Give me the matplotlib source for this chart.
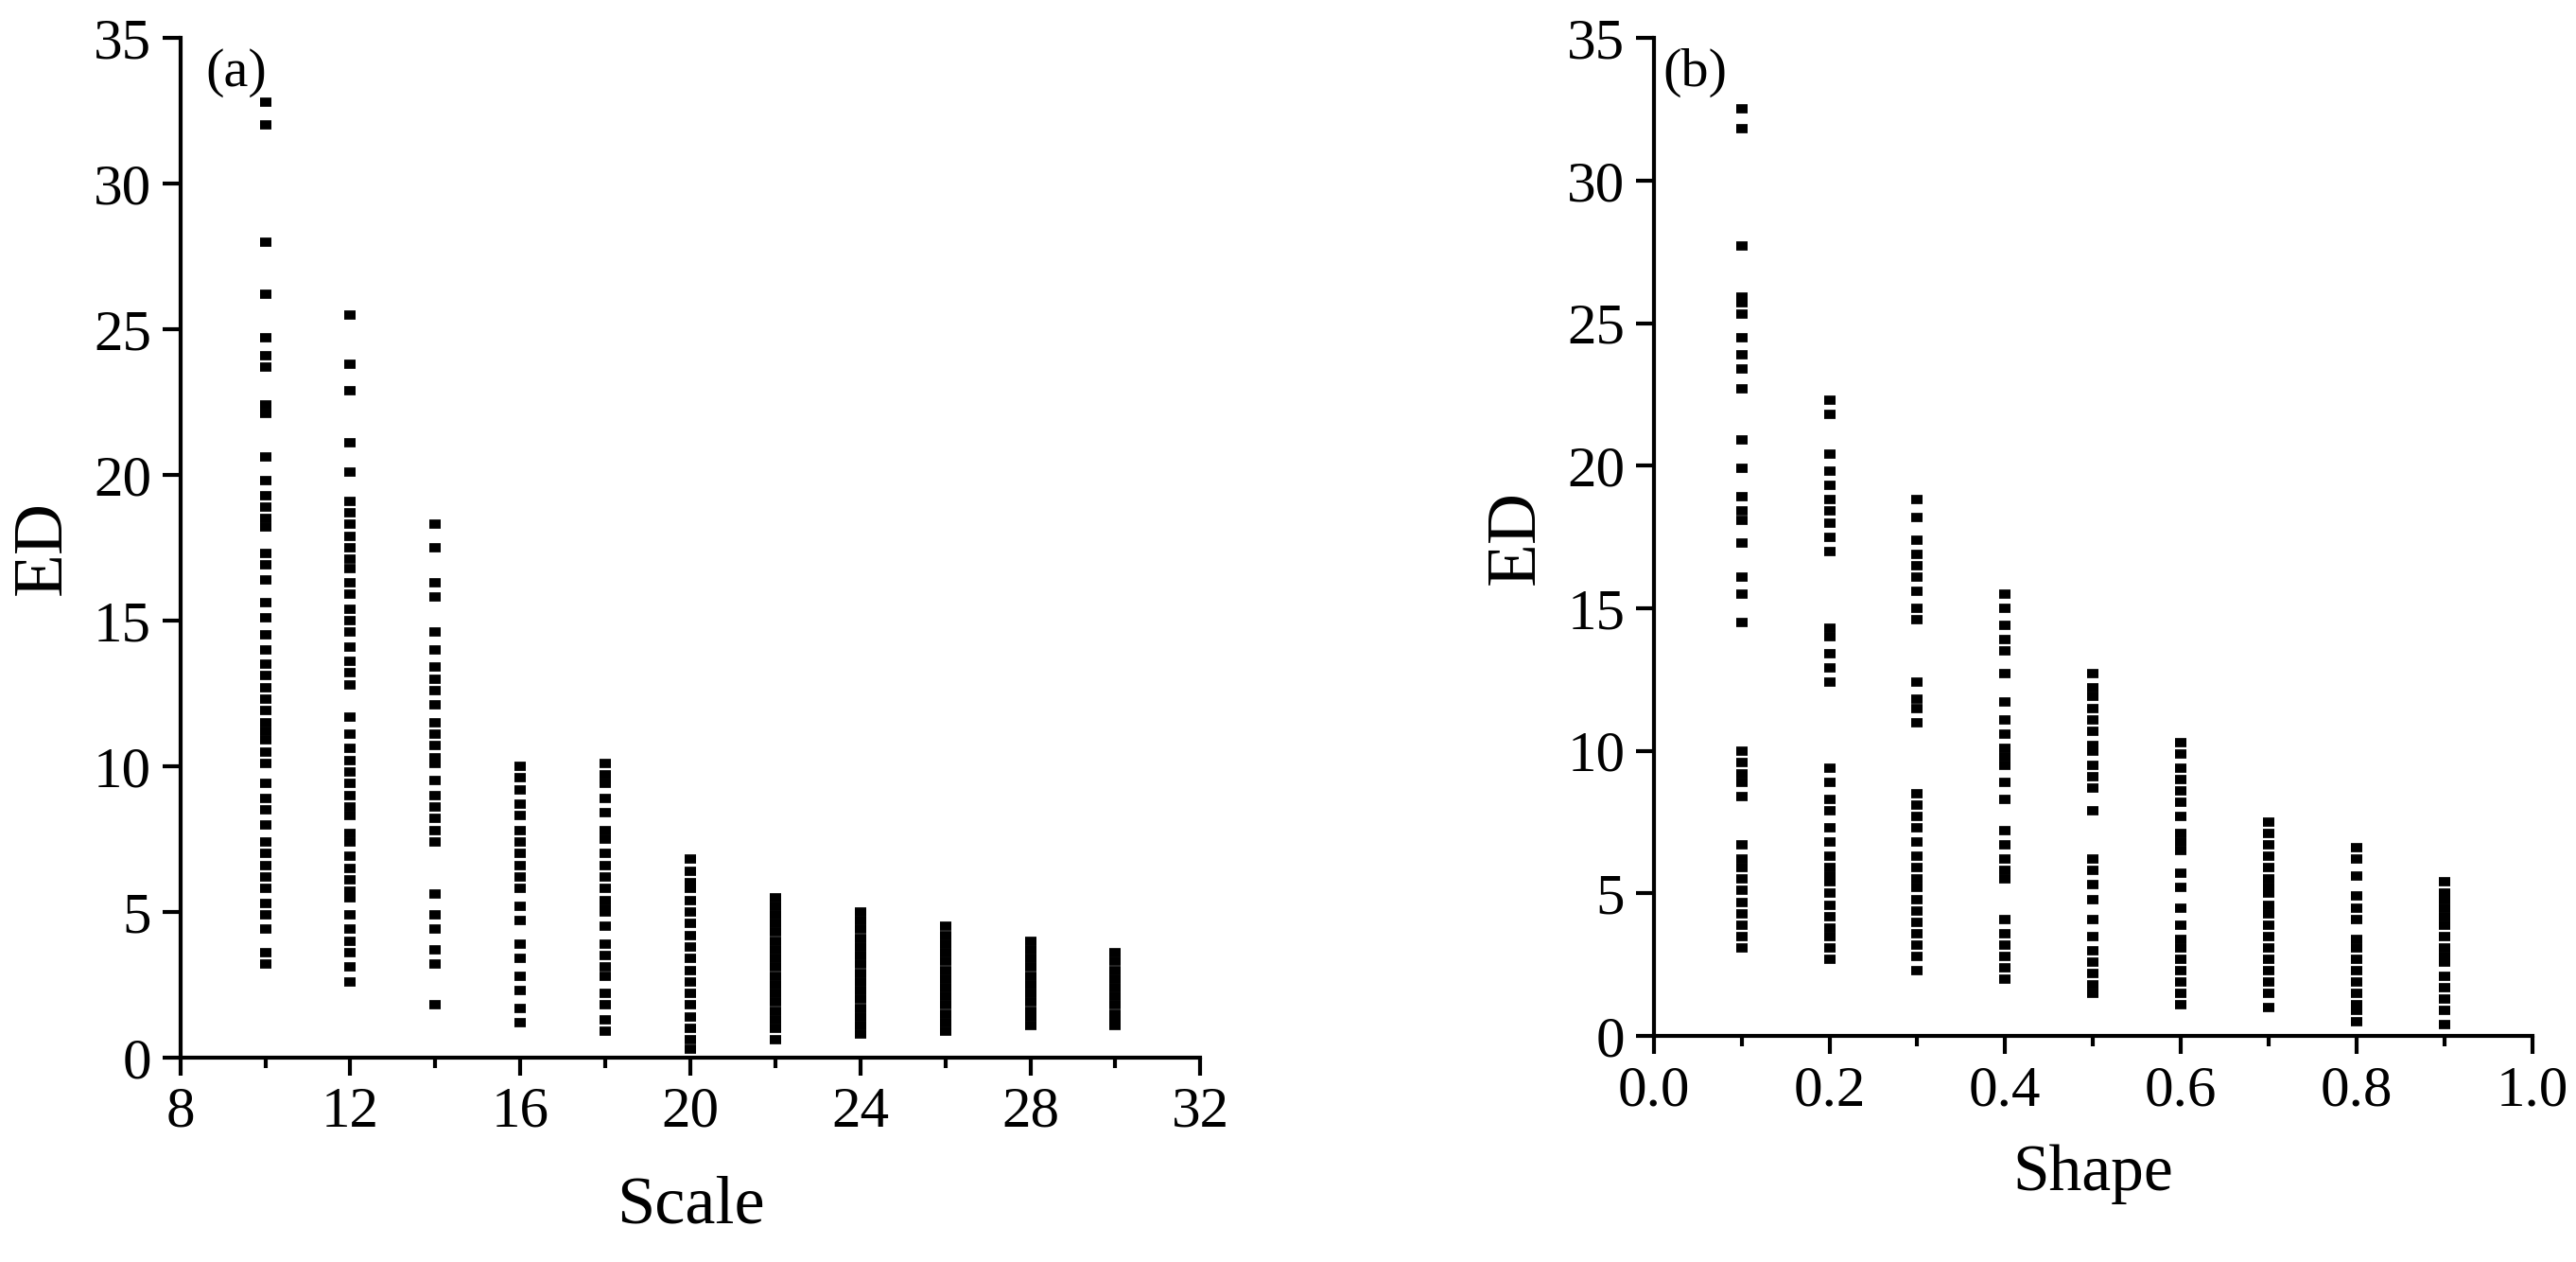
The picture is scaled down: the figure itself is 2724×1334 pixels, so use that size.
import matplotlib
matplotlib.use('Agg')
import matplotlib.pyplot as plt
from matplotlib.ticker import MultipleLocator

# ED values per Scale column, panel (a)
scale_x = [10, 12, 14, 16, 18, 20, 22, 24, 26, 28, 30]
scale_ed = [
    [32.8, 32.0, 28.0, 26.2, 24.7, 24.1, 23.7, 22.4, 22.1, 20.6, 19.8, 19.3, 18.9, 18.5, 18.2,
     17.3, 16.9, 16.4, 15.6, 15.1, 14.5, 14.0, 13.5, 13.1, 12.7, 12.3, 11.9, 11.5, 11.2, 10.9,
     10.5, 10.1, 9.4, 8.9, 8.5, 8.0, 7.4, 7.0, 6.6, 6.2, 5.8, 5.3, 4.9, 4.4, 3.6, 3.2],
    [25.5, 23.8, 22.9, 21.1, 20.1, 19.1, 18.7, 18.3, 17.9, 17.5, 17.1, 16.8, 16.3, 15.9, 15.4,
     15.0, 14.6, 14.1, 13.6, 13.2, 12.8, 11.7, 11.1, 10.6, 10.2, 9.8, 9.4, 9.0, 8.6, 8.3, 7.7,
     7.4, 6.9, 6.5, 6.1, 5.7, 5.5, 4.9, 4.4, 4.0, 3.6, 3.1, 2.6],
    [18.3, 17.5, 16.3, 15.8, 14.6, 14.0, 13.4, 13.0, 12.6, 12.1, 11.5, 11.1, 10.7, 10.3, 10.1,
     9.5, 9.0, 8.6, 8.2, 7.8, 7.4, 5.6, 4.9, 4.4, 3.7, 3.2, 1.8],
    [10.0, 9.6, 9.2, 8.7, 8.3, 7.8, 7.4, 7.0, 6.6, 6.2, 5.8, 5.2, 4.7, 3.9, 3.4, 2.8, 2.3,
     1.7, 1.2],
    [10.1, 9.7, 9.4, 8.9, 8.4, 7.8, 7.5, 7.0, 6.6, 6.2, 5.8, 5.4, 5.1, 5.0, 4.5, 3.9, 3.5,
     3.1, 2.8, 2.2, 1.8, 1.3, 0.9],
    [6.8, 6.4, 6.0, 5.8, 5.4, 5.0, 4.6, 4.2, 3.8, 3.4, 3.0, 2.6, 2.2, 1.8, 1.4, 1.0, 0.6, 0.3],
    [5.5, 5.2, 4.9, 4.6, 4.3, 4.0, 3.7, 3.4, 3.1, 2.8, 2.5, 2.2, 1.9, 1.6, 1.3, 1.0, 0.6],
    [5.0, 4.7, 4.4, 4.1, 3.8, 3.5, 3.2, 2.9, 2.6, 2.3, 2.0, 1.7, 1.4, 1.1, 0.8],
    [4.5, 4.2, 3.9, 3.6, 3.3, 3.0, 2.7, 2.4, 2.1, 1.8, 1.5, 1.2, 0.9],
    [4.0, 3.7, 3.4, 3.1, 2.8, 2.5, 2.2, 1.9, 1.6, 1.4, 1.1],
    [3.6, 3.3, 3.0, 2.7, 2.4, 2.1, 1.8, 1.5, 1.3, 1.1],
]

# ED values per Shape column, panel (b)
shape_x = [0.1, 0.2, 0.3, 0.4, 0.5, 0.6, 0.7, 0.8, 0.9]
shape_ed = [
    [32.5, 31.8, 27.7, 25.9, 25.7, 25.3, 24.5, 23.9, 23.4, 22.7, 20.9, 19.9, 18.9, 18.4, 18.1,
     17.3, 16.1, 15.5, 14.5, 10.0, 9.6, 9.2, 8.9, 8.4, 6.7, 6.2, 5.9, 5.5, 5.1, 4.7, 4.3,
     3.9, 3.5, 3.1],
    [22.3, 21.8, 20.4, 19.8, 19.3, 18.8, 18.4, 18.0, 17.5, 17.0, 14.3, 14.0, 13.4, 12.9, 12.4,
     9.4, 8.9, 8.3, 7.9, 7.3, 6.8, 6.3, 5.9, 5.6, 5.4, 5.0, 4.6, 4.2, 3.8, 3.5, 3.1, 2.7],
    [18.8, 18.2, 17.4, 16.9, 16.5, 16.1, 15.6, 15.0, 14.6, 12.4, 11.8, 11.5, 11.0, 8.5, 8.1,
     7.7, 7.3, 6.8, 6.3, 5.9, 5.5, 5.2, 4.8, 4.4, 4.0, 3.6, 3.2, 2.8, 2.3],
    [15.5, 15.0, 14.4, 13.9, 13.5, 12.7, 11.7, 11.1, 10.6, 10.1, 9.8, 9.5, 8.9, 8.3, 7.2, 6.7,
     6.2, 5.8, 5.5, 4.1, 3.6, 3.2, 2.8, 2.4, 2.0],
    [12.7, 12.2, 11.9, 11.5, 11.1, 10.7, 10.2, 10.0, 9.5, 9.1, 8.7, 7.9, 6.2, 5.8, 5.3, 4.8,
     4.1, 3.5, 3.0, 2.6, 2.2, 1.8, 1.5],
    [10.3, 9.9, 9.4, 9.0, 8.6, 8.2, 7.7, 7.1, 6.8, 6.5, 5.7, 5.2, 4.5, 3.9, 3.4, 3.1, 2.7,
     2.3, 1.9, 1.5, 1.1],
    [7.5, 7.1, 6.7, 6.3, 5.9, 5.5, 5.2, 5.0, 4.6, 4.3, 3.9, 3.5, 3.1, 2.7, 2.3, 1.9, 1.5, 1.0],
    [6.6, 6.2, 5.6, 4.9, 4.5, 4.1, 3.4, 3.1, 2.7, 2.3, 1.9, 1.5, 1.1, 0.9, 0.5],
    [5.4, 5.0, 4.8, 4.5, 4.2, 3.9, 3.5, 3.1, 2.8, 2.6, 2.1, 1.7, 1.3, 0.9, 0.4],
]

plt.rcParams['font.family'] = ['Liberation Serif', 'DejaVu Serif']

fig = plt.figure(figsize=(27.24, 13.34), dpi=100)
ax1 = fig.add_axes([0.070, 0.162, 0.396, 0.808])
ax2 = fig.add_axes([0.642, 0.179, 0.341, 0.791])


def style(ax):
    ax.spines['top'].set_visible(False)
    ax.spines['right'].set_visible(False)
    for s in ('left', 'bottom'):
        ax.spines[s].set_linewidth(3)
    ax.tick_params(which='major', direction='out', length=14, width=3, labelsize=44, pad=8)
    ax.tick_params(which='minor', direction='out', length=8, width=3)
    ax.set_ylim(0, 35)
    ax.yaxis.set_major_locator(MultipleLocator(5))
    ax.set_ylabel('ED', fontsize=54, labelpad=14)


# short horizontal dashes, like the original marks
mk = dict(linestyle='none', marker='_', markersize=9, markeredgewidth=7, color='black')

for x, ys in zip(scale_x, scale_ed):
    ax1.plot([x] * len(ys), ys, **mk)
style(ax1)
ax1.set_xlim(8, 32)
ax1.xaxis.set_major_locator(MultipleLocator(4))
ax1.xaxis.set_minor_locator(MultipleLocator(2))
ax1.set_xlabel('Scale', fontsize=52, labelpad=28)
ax1.text(0.025, 0.99, '(a)', transform=ax1.transAxes, fontsize=42, va='top')

for x, ys in zip(shape_x, shape_ed):
    ax2.plot([x] * len(ys), ys, **mk)
style(ax2)
ax2.set_xlim(0, 1.0)
ax2.xaxis.set_major_locator(MultipleLocator(0.2))
ax2.xaxis.set_minor_locator(MultipleLocator(0.1))
ax2.xaxis.set_major_formatter(matplotlib.ticker.FormatStrFormatter('%.1f'))
ax2.set_xlabel('Shape', fontsize=50, labelpad=20)
ax2.text(0.01, 0.99, '(b)', transform=ax2.transAxes, fontsize=42, va='top')

plt.savefig('out.png', dpi=100)
